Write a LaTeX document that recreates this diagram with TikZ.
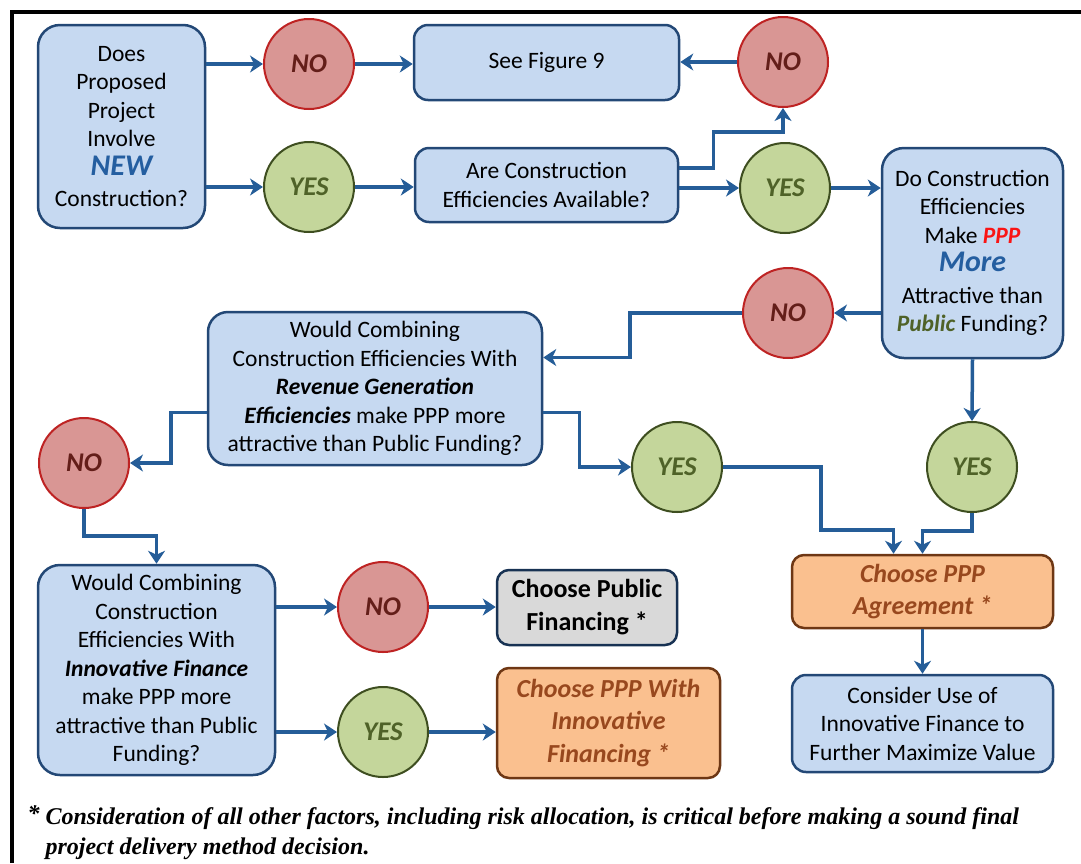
\documentclass[tikz,border=0pt]{standalone}
\usepackage{fontspec}
\setmainfont{Carlito}
\newfontfamily\notefont{Liberation Serif}
\definecolor{qblue}{RGB}{198,217,241}
\definecolor{qedge}{RGB}{35,72,118}
\definecolor{arrblue}{RGB}{37,93,152}
\definecolor{nofill}{RGB}{217,150,148}
\definecolor{noedge}{RGB}{190,35,35}
\definecolor{notext}{RGB}{99,30,25}
\definecolor{yesfill}{RGB}{196,214,155}
\definecolor{yesedge}{RGB}{62,78,32}
\definecolor{yestext}{RGB}{79,98,40}
\definecolor{pppfill}{RGB}{250,192,143}
\definecolor{pppedge}{RGB}{110,55,20}
\definecolor{ppptext}{RGB}{152,72,30}
\definecolor{pubfill}{RGB}{217,217,217}
\definecolor{newblue}{RGB}{36,94,160}
\definecolor{pppred}{RGB}{250,20,20}
\usetikzlibrary{arrows.meta,positioning,calc}

\begin{document}
\begin{tikzpicture}[x=1pt,y=-1pt,
  txt/.style={font=\fontsize{23.5}{28.5}\selectfont,align=center},
  qbox/.style={txt,draw=qedge,line width=2.5pt,fill=qblue,rounded corners=14pt,inner sep=2pt},
  nocirc/.style={draw=noedge,line width=2pt,fill=nofill,circle,minimum size=90pt,
    font=\fontsize{27}{28}\selectfont\bfseries\itshape,text=notext},
  yescirc/.style={draw=yesedge,line width=2pt,fill=yesfill,circle,minimum size=90pt,
    font=\fontsize{27}{28}\selectfont\bfseries\itshape,text=yestext},
  pppbox/.style={txt,draw=pppedge,line width=2.5pt,fill=pppfill,rounded corners=12pt,
    font=\fontsize{26}{32.5}\selectfont\bfseries\itshape,text=ppptext},
  arr/.style={draw=arrblue,line width=3.5pt,-{Stealth[length=13pt,width=17pt,inset=4pt]}}]
  \useasboundingbox (0,0) rectangle (1081,863);
  % frame
  \draw[line width=4pt] (12,863) -- (12,12) -- (1081,12);
  % questions
  \node[qbox,rounded corners=22pt,minimum width=167pt,minimum height=203pt] (q1) at (121.5,126.5)
    {Does\\Proposed\\Project\\Involve\\{\fontsize{30}{33}\selectfont\bfseries\itshape\color{newblue}NEW}\\[3pt]Construction?};
  \node[qbox,minimum width=265pt,minimum height=75pt] (fig9) at (546.5,62.5) {See Figure 9};
  \node[qbox,minimum width=263pt,minimum height=74pt] (q2) at (546.5,185)
    {Are Construction\\Efficiencies Available?};
  \node[qbox,rounded corners=22pt,minimum width=181pt,minimum height=210pt] (q3) at (972.5,253)
    {Do Construction\\Efficiencies\\Make {\bfseries\itshape\color{pppred}PPP}\\{\fontsize{30}{33}\selectfont\bfseries\itshape\color{newblue}More}\\[3pt]Attractive than\\{\bfseries\itshape\color{yestext}Public} Funding?};
  \node[qbox,rounded corners=20pt,minimum width=334pt,minimum height=153pt] (q4) at (375,388.5)
    {Would Combining\\Construction Efficiencies With\\{\bfseries\itshape Revenue Generation}\\{\bfseries\itshape Efficiencies} make PPP more\\attractive than Public Funding?};
  \node[qbox,rounded corners=22pt,minimum width=237pt,minimum height=210pt] (q5) at (156.5,670)
    {Would Combining\\Construction\\Efficiencies With\\{\bfseries\itshape Innovative Finance}\\make PPP more\\attractive than Public\\Funding?};
  % outcomes
  \node[txt,draw=qedge!70!black,line width=2.5pt,fill=pubfill,rounded corners=12pt,
    font=\fontsize{26}{33}\selectfont\bfseries,minimum width=180pt,minimum height=75pt] (pub) at (587,607.5)
    {Choose Public\\Financing *};
  \node[pppbox,minimum width=223pt,minimum height=110pt] (pppinn) at (608.5,723)
    {Choose PPP With\\Innovative\\Financing *};
  \node[pppbox,minimum width=261pt,minimum height=73pt] (ppp) at (922.5,591.5)
    {Choose PPP\\Agreement *};
  \node[qbox,minimum width=261pt,minimum height=97pt] (use) at (922.5,723.5)
    {Consider Use of\\Innovative Finance to\\Further Maximize Value};
  % answers
  \node[nocirc] (no1) at (309,64) {NO};
  \node[yescirc] (yes1) at (309,187) {YES};
  \node[nocirc] (no2) at (783,62) {NO};
  \node[yescirc] (yes2) at (785,188) {YES};
  \node[nocirc] (no3) at (788,313) {NO};
  \node[nocirc] (no4) at (84,463) {NO};
  \node[yescirc] (yes3) at (677,467) {YES};
  \node[yescirc] (yes4) at (972,467) {YES};
  \node[nocirc] (no5) at (383,607) {NO};
  \node[yescirc] (yes5) at (383,732) {YES};
  % connectors
  \draw[arr] (q1.east |- no1) -- (no1.west);
  \draw[arr] (q1.east |- yes1) -- (yes1.west);
  \draw[arr] (no1.east) -- (no1 -| fig9.west);
  \draw[arr] (yes1.east) -- (yes1 -| q2.west);
  \draw[arr] (no2.west) -- (no2 -| fig9.east);
  \draw[arr] ([yshift=17pt]q2.east) -- ++(34,0) -- ++(0,-36) -| (no2.south);
  \draw[arr] (yes2 -| q2.east) -- (yes2.west);
  \draw[arr] (yes2.east) -- (yes2 -| q3.west);
  \draw[arr] (no3 -| q3.west) -- (no3.east);
  \draw[arr] (no3.west) -- ++(-112,0) |- ([yshift=31pt]q4.east);
  \draw[arr] ([yshift=-24pt]q4.west) -- ++(-36,0) |- (no4.east);
  \draw[arr] ([yshift=-24pt]q4.east) -- ++(36,0) |- (yes3.west);
  \draw[arr] (no4.south) -- ++(0,27) -| (q5.north);
  \draw[arr] (no5 -| q5.east) -- (no5.west);
  \draw[arr] (yes5 -| q5.east) -- (yes5.west);
  \draw[arr] (no5.east) -- (no5 -| pub.west);
  \draw[arr] (yes5.east) -- (yes5 -| pppinn.west);
  \draw[arr] (yes3.east) -- ++(98,0) -- ++(0,63) -| ([xshift=-29pt]ppp.north);
  \draw[arr] (q3.south) -- (yes4.north);
  \draw[arr] (yes4.south) -- ++(0,18) -| (ppp.north);
  \draw[arr] (ppp.south) -- (use.north);
  % note
  \node[font=\notefont\fontsize{24}{30}\selectfont\bfseries\itshape,anchor=north west] (star) at (24,802) {*};
  \node[font=\notefont\fontsize{24}{30}\selectfont\bfseries\itshape,align=left,anchor=north west] (note) at (42,804)
    {Consideration of all other factors, including risk allocation, is critical before making a sound final\\project delivery method decision.};
\end{tikzpicture}
\end{document}
